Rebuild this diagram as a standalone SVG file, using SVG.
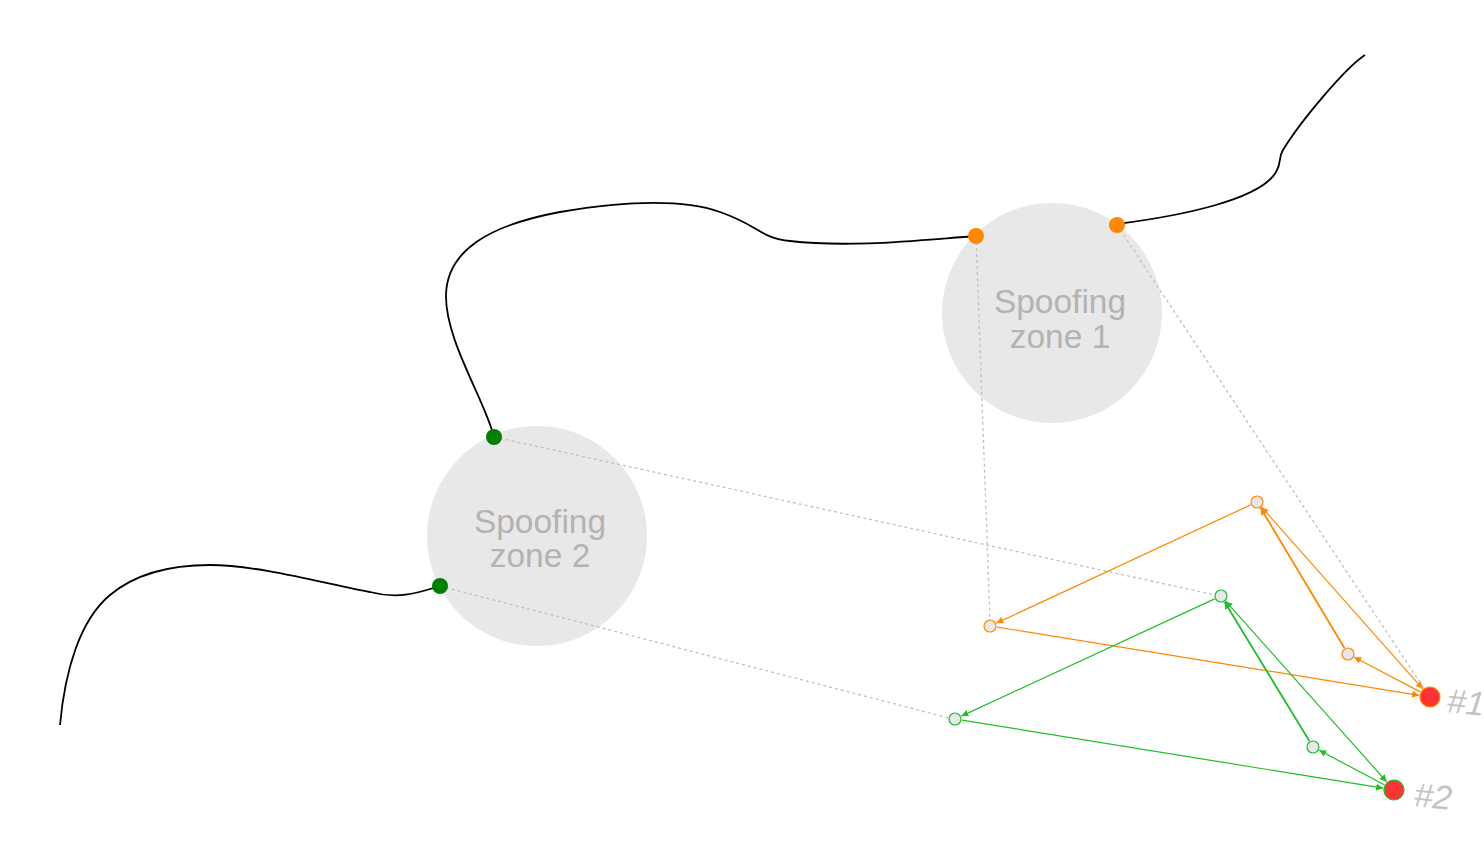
<svg xmlns="http://www.w3.org/2000/svg" width="1484" height="841" viewBox="0 0 1484 841">
<style>
.zone{fill:#e8e8e8}
.zt{font-family:"Liberation Sans",Arial,sans-serif;font-size:33.5px;fill:#b3b3b3;text-anchor:middle}
.lbl{font-family:"Liberation Sans",Arial,sans-serif;font-size:34px;fill:#c4c4c4;font-style:italic}
.track{fill:none;stroke:#000;stroke-width:1.8}
.dash{fill:none;stroke:#c0c0c0;stroke-width:1.3;stroke-dasharray:3,3}
.o{stroke:#ff8800;stroke-width:1.2;fill:none}
.g{stroke:#1fbf2a;stroke-width:1.2;fill:none}
.thick{stroke-width:1.8}
.sno{fill:#e8e8e8;stroke:#ff8800;stroke-width:1.2}
.sng{fill:#e8e8e8;stroke:#1fbf2a;stroke-width:1.2}
</style>
<defs>
<marker id="ao" viewBox="0 0 10 10" refX="10" refY="5" markerWidth="7" markerHeight="7" markerUnits="userSpaceOnUse" orient="auto-start-reverse"><path d="M0,0 L10,5 L0,10 z" fill="#ff8800"/></marker>
<marker id="ag" viewBox="0 0 10 10" refX="10" refY="5" markerWidth="7" markerHeight="7" markerUnits="userSpaceOnUse" orient="auto-start-reverse"><path d="M0,0 L10,5 L0,10 z" fill="#1fbf2a"/></marker>
</defs>
<rect width="1484" height="841" fill="#fff"/>
<g id="zone1"><circle class="zone" cx="1052" cy="313" r="110"/><text class="zt" x="1060" y="313">Spoofing</text><text class="zt" x="1060" y="348">zone 1</text></g>
<g id="zone2"><circle class="zone" cx="537" cy="536" r="110"/><text class="zt" x="540" y="533">Spoofing</text><text class="zt" x="540" y="567">zone 2</text></g>
<g id="tracks">
<path class="track" d="M60,725 C65,670 80,620 110,595 C140,570 180,565 210,565 C260,565 330,585 370,592 C400,600 420,592 440,586"/>
<path class="track" d="M494,437 C485,400 445,340 446,295 C447,250 490,225 560,212 C620,202 680,198 720,212 C760,226 760,238 790,241 C850,248 920,240 976,236"/>
<path class="track" d="M1117,224 C1180,216 1260,200 1276,172 C1282,162 1278,158 1283,150 C1300,122 1345,68 1365,55"/>
</g>
<g id="connectors">
<line class="dash" x1="976" y1="236" x2="990" y2="620"/>
<line class="dash" x1="1117" y1="225" x2="1425" y2="690"/>
<line class="dash" x1="494" y1="437" x2="1215" y2="595"/>
<line class="dash" x1="440" y1="586" x2="949" y2="718"/>
<line class="o" x1="1250.6" y1="504.9" x2="996.4" y2="623.1" marker-end="url(#ao)"/>
<line class="o" x1="996.9" y1="627.1" x2="1419.1" y2="695.3" marker-end="url(#ao)"/>
<line class="o thick" x1="1344.4" y1="648" x2="1260.6" y2="508" marker-end="url(#ao)"/>
<line class="o" x1="1420.3" y1="691.9" x2="1354.2" y2="657.2" marker-end="url(#ao)"/>
<line class="o" x1="1261.6" y1="507.2" x2="1422.7" y2="688.8" marker-start="url(#ao)" marker-end="url(#ao)"/>
<line class="g" x1="1214.6" y1="598.9" x2="961.4" y2="716.1" marker-end="url(#ag)"/>
<line class="g" x1="961.9" y1="720.1" x2="1383.1" y2="788.2" marker-end="url(#ag)"/>
<line class="g thick" x1="1309.4" y1="741" x2="1224.6" y2="602" marker-end="url(#ag)"/>
<line class="g" x1="1384.3" y1="784.8" x2="1319.2" y2="750.3" marker-end="url(#ag)"/>
<line class="g" x1="1225.7" y1="601.2" x2="1386.7" y2="781.8" marker-start="url(#ag)" marker-end="url(#ag)"/>
</g>
<g id="p-o1"><circle cx="976" cy="236" r="8" fill="#ff8800"/></g>
<g id="p-o2"><circle cx="1117" cy="225" r="8" fill="#ff8800"/></g>
<g id="p-g1"><circle cx="494" cy="437" r="8" fill="#008000"/></g>
<g id="p-g2"><circle cx="440" cy="586" r="8" fill="#008000"/></g>
<g id="n-oa"><circle class="sno" cx="1257" cy="502" r="6"/></g>
<g id="n-ob"><circle class="sno" cx="990" cy="626" r="6"/></g>
<g id="n-oc"><circle class="sno" cx="1348" cy="654" r="6"/></g>
<g id="n-gd"><circle class="sng" cx="1221" cy="596" r="6"/></g>
<g id="n-ge"><circle class="sng" cx="955" cy="719" r="6"/></g>
<g id="n-gf"><circle class="sng" cx="1313" cy="747" r="6"/></g>
<g id="r1"><circle cx="1430" cy="697" r="10" fill="#ff3333" stroke="#ff8800" stroke-width="1.2"/><text class="lbl" transform="translate(1446,712) rotate(6)">#1</text></g>
<g id="r2"><circle cx="1394" cy="790" r="10" fill="#ff3333" stroke="#1fbf2a" stroke-width="1.2"/><text class="lbl" transform="translate(1413,806) rotate(6)">#2</text></g>
</svg>
